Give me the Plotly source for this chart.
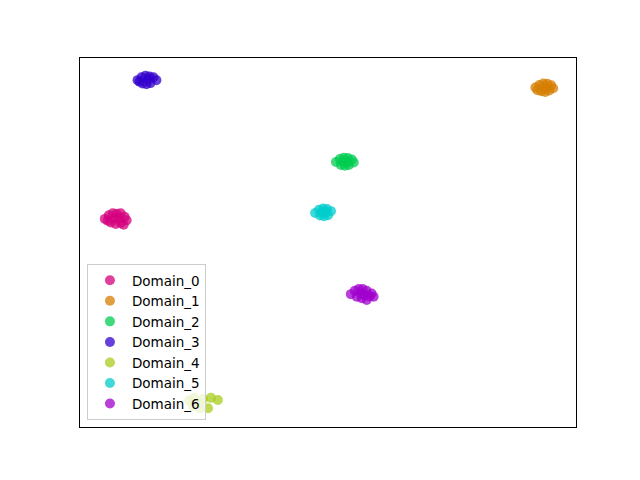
import plotly.graph_objects as go

domains = ["Domain_0", "Domain_1", "Domain_2", "Domain_3", "Domain_4", "Domain_5", "Domain_6"]
colors = ["#d4007e", "#d67d00", "#00cc50", "#3300cc", "#a8cc1a", "#00cccc", "#a000cc"]

d0_x = [5.0, 5.8, 6.6, 7.4, 8.2, 9.0, 9.4, 6.2, 7.2, 8.2, 5.6, 7.0, 8.8, 7.8]
d0_y = [56.4, 57.4, 57.9, 57.8, 57.9, 57.0, 56.0, 55.4, 55.0, 55.3, 55.9, 56.5, 54.8, 56.6]
d1_x = [91.8, 92.6, 93.4, 94.2, 95.0, 95.4, 93.0, 93.8, 94.6, 92.2, 93.8]
d1_y = [92.0, 92.7, 93.1, 93.0, 92.6, 91.8, 91.0, 90.8, 91.2, 91.3, 92.0]
d2_x = [51.6, 52.4, 53.2, 54.0, 54.8, 55.2, 52.6, 53.4, 54.2, 53.0, 54.0]
d2_y = [71.8, 72.6, 73.0, 72.9, 72.5, 71.7, 71.0, 70.8, 71.0, 71.9, 71.8]
d3_x = [11.6, 12.4, 13.2, 14.0, 14.8, 15.4, 12.6, 13.4, 14.2, 12.0, 13.8]
d3_y = [94.0, 94.8, 95.2, 95.0, 94.8, 94.0, 93.1, 92.9, 93.2, 93.6, 94.2]
d4_x = [22.0, 23.0, 24.0, 24.8, 22.8, 24.2, 26.4, 27.8, 25.8]
d4_y = [7.2, 7.9, 6.4, 7.6, 5.6, 5.0, 7.9, 7.3, 5.1]
d5_x = [47.4, 48.2, 49.0, 49.8, 50.6, 48.4, 49.2, 50.0, 48.8, 49.6]
d5_y = [58.0, 58.9, 59.2, 59.1, 58.5, 57.3, 57.1, 57.4, 58.1, 58.3]
d6_x = [54.6, 55.4, 56.2, 57.0, 57.8, 58.8, 59.2, 55.8, 56.8, 57.8, 58.4, 56.6, 57.4]
d6_y = [36.0, 36.9, 37.4, 37.4, 36.9, 36.2, 35.3, 35.3, 34.9, 34.4, 35.4, 36.1, 35.8]

xs = [d0_x, d1_x, d2_x, d3_x, d4_x, d5_x, d6_x]
ys = [d0_y, d1_y, d2_y, d3_y, d4_y, d5_y, d6_y]

fig = go.Figure()
for name, c, x, y in zip(domains, colors, xs, ys):
    fig.add_trace(go.Scatter(
        x=x, y=y, mode="markers", name=name,
        marker=dict(color=c, size=10, opacity=0.75, line=dict(width=0)),
    ))

fig.update_layout(
    width=640, height=480,
    margin=dict(l=72, r=72, t=50, b=61),
    paper_bgcolor="white", plot_bgcolor="white",
    font=dict(family="DejaVu Sans", size=13.5, color="black"),
    xaxis=dict(range=[0, 100], showticklabels=False, ticks="", showgrid=False,
               zeroline=False, showline=True, mirror=True, linecolor="black", linewidth=1),
    yaxis=dict(range=[0, 100], showticklabels=False, ticks="", showgrid=False,
               zeroline=False, showline=True, mirror=True, linecolor="black", linewidth=1),
    legend=dict(x=0.014, y=0.019, xanchor="left", yanchor="bottom",
                bgcolor="rgba(255,255,255,0.8)", bordercolor="#cccccc", borderwidth=1,
                font=dict(size=13.5), itemsizing="trace", itemwidth=34),
    showlegend=True,
)

fig.write_html("out.html")
